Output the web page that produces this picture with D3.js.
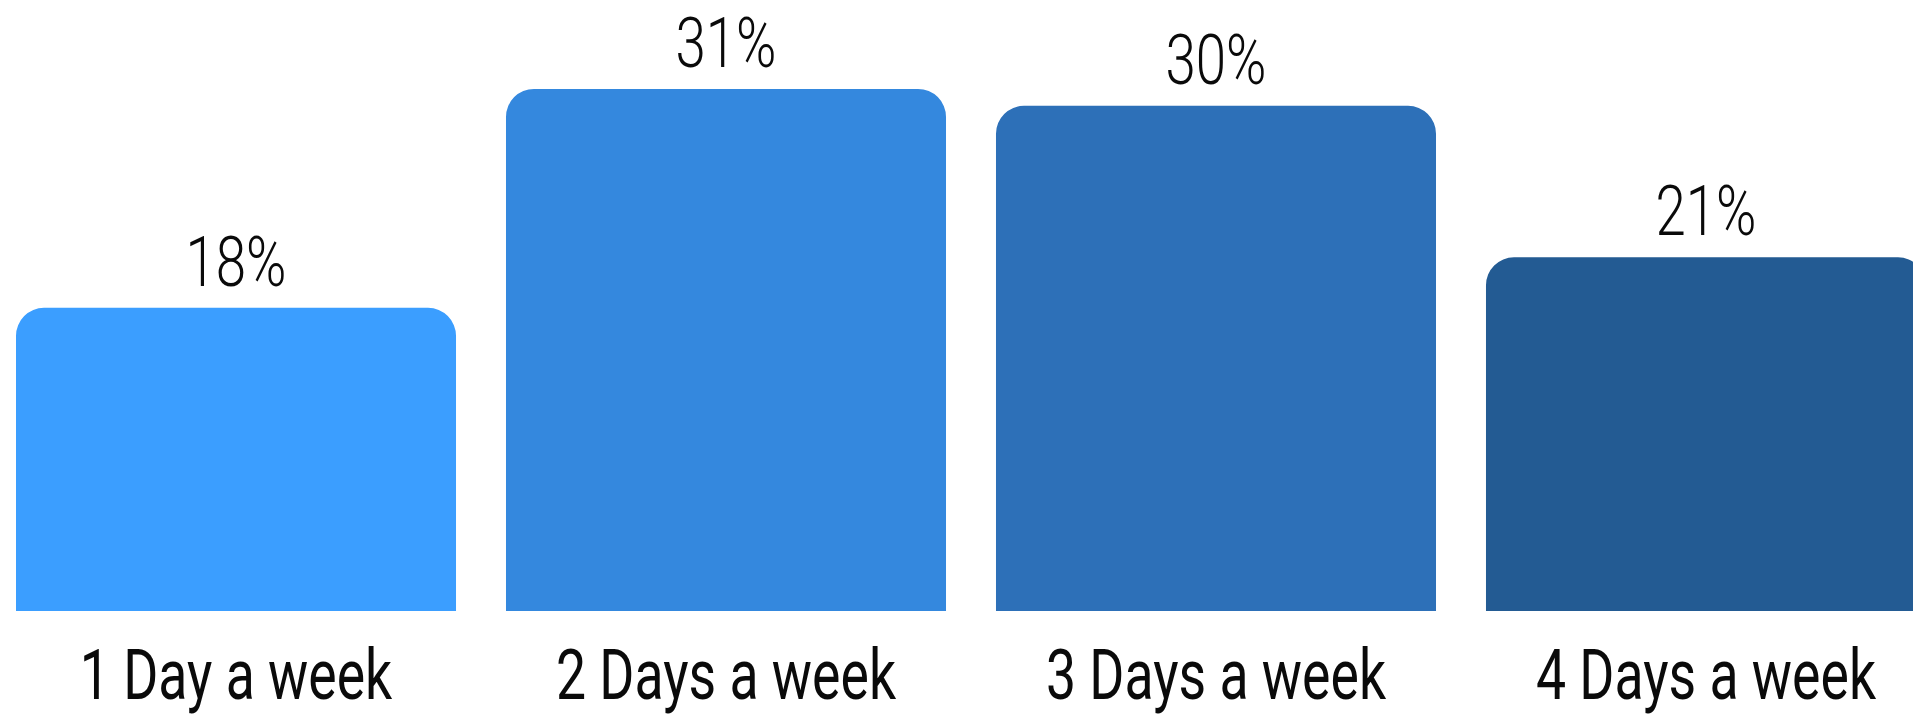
<!DOCTYPE html>
<html>
<head>
<meta charset="utf-8">
<script src="https://cdn.jsdelivr.net/npm/d3@7"></script>
<style>
  html, body { margin: 0; padding: 0; background: #fff; overflow: hidden; }
  svg { display: block; }
  text { font-family: Roboto, "Liberation Sans", sans-serif; fill: #0a0a0a; }
</style>
</head>
<body>
<svg id="chart" width="1913" height="716"></svg>
<script>
const categories = ["1 Day a week", "2 Days a week", "3 Days a week", "4 Days a week"];
const values = [18, 31, 30, 21];
const valueLabels = ["18%", "31%", "30%", "21%"];
const colors = ["#3b9eff", "#3488de", "#2d70b8", "#235b93"];

const W = 1913, H = 716;
const svg = d3.select("#chart");

const x = d3.scaleBand()
  .domain(categories)
  .range([16, 1926])
  .paddingInner(0.102)
  .paddingOuter(0);

const y = d3.scaleLinear()
  .domain([0, 36.28])
  .range([611, 0]);

const r = 28;
function topRounded(x0, y0, w, h, rad) {
  const rr = Math.min(rad, w / 2, h);
  return `M${x0},${y0 + h}` +
    `V${y0 + rr}` +
    `A${rr},${rr} 0 0 1 ${x0 + rr},${y0}` +
    `H${x0 + w - rr}` +
    `A${rr},${rr} 0 0 1 ${x0 + w},${y0 + rr}` +
    `V${y0 + h}Z`;
}

const data = categories.map((c, i) => ({ c, v: values[i], label: valueLabels[i], color: colors[i] }));

svg.append("g").selectAll("path")
  .data(data)
  .join("path")
  .attr("d", d => topRounded(x(d.c), y(d.v), x.bandwidth(), y(0) - y(d.v), r))
  .attr("fill", d => d.color);

svg.append("g").selectAll("text")
  .data(data)
  .join("text")
  .attr("transform", d => `translate(${x(d.c) + x.bandwidth() / 2},${y(d.v) - 22}) scale(0.78,1)`)
  .attr("text-anchor", "middle")
  .attr("font-size", 70)
  .attr("font-weight", 300)
  .text(d => d.label);

const xAxis = d3.axisBottom(x).tickSize(0).tickPadding(0);
const gx = svg.append("g")
  .attr("transform", `translate(0,${y(0)})`)
  .call(xAxis);
gx.select(".domain").remove();
gx.selectAll(".tick text")
  .attr("y", null)
  .attr("dy", null)
  .attr("transform", `translate(0,88) scale(0.765,1)`)
  .attr("font-size", 70)
  .attr("font-weight", 400)
  .attr("font-family", "Roboto, 'Liberation Sans', sans-serif")
  .attr("fill", "#0a0a0a");
</script>
</body>
</html>
